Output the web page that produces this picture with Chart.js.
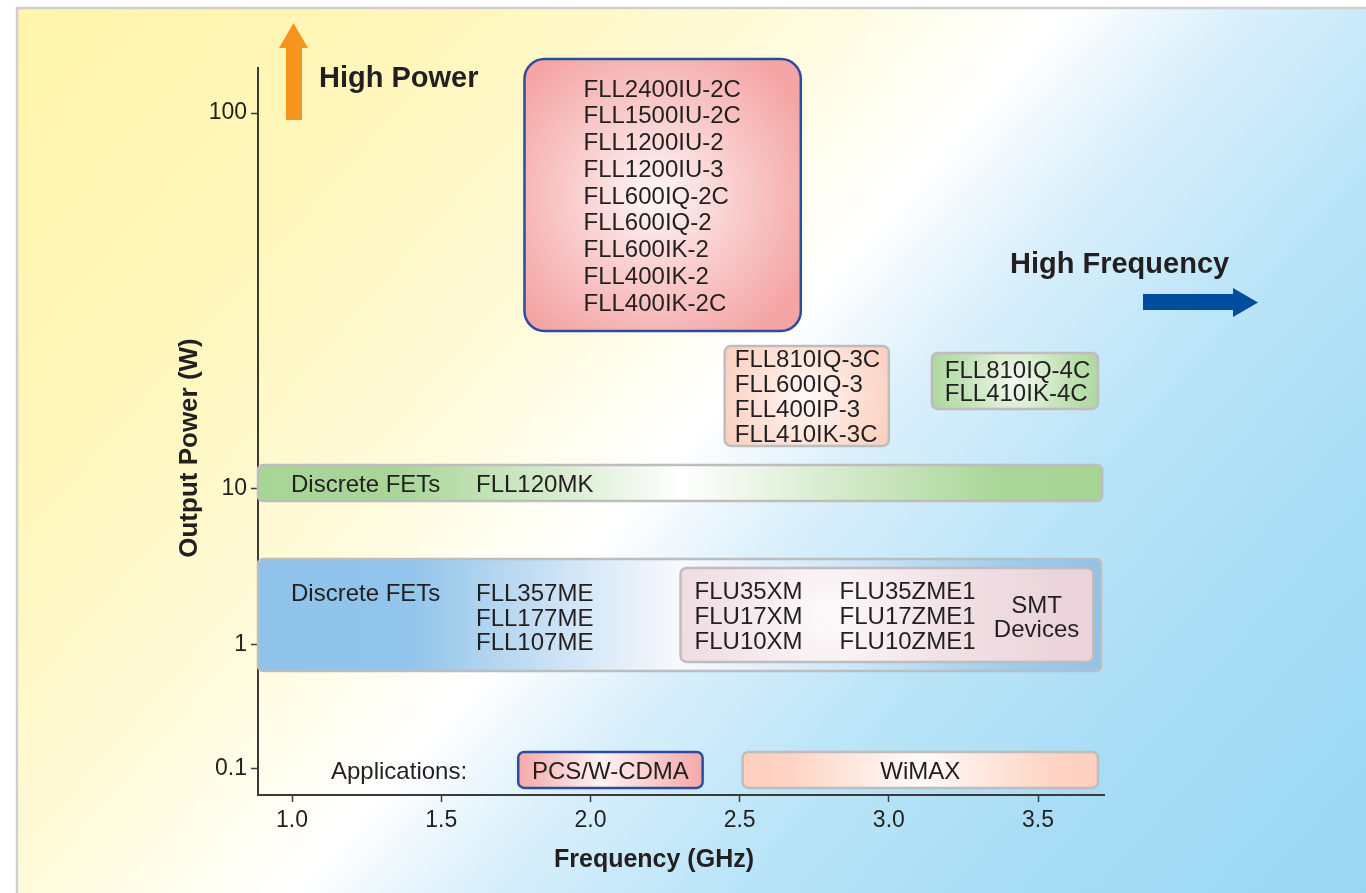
<!DOCTYPE html>
<html>
<head>
<meta charset="utf-8">
<title>Output power vs frequency</title>
<script src="https://cdn.jsdelivr.net/npm/chart.js@4.4.1/dist/chart.umd.min.js"></script>
<style>
  html, body { margin: 0; padding: 0; background: #fff; overflow: hidden; }
  canvas { display: block; }
</style>
</head>
<body>
<canvas id="powerChart" width="1366" height="893"></canvas>
<script>
// axis ticks
var freqTicks = [1.0, 1.5, 2.0, 2.5, 3.0, 3.5];
var powerTickLabels = ['0.1', '1', '10', '100'];
// the power axis in the original is schematic (not a true log scale),
// so the ticks sit at these levels
var powerTickLevels = [0, 1, 2.258, 5.29];

// device groups: frequency span (GHz) and span on the power axis (levels)
var boxNames     = ['highPower', 'series3C', 'series4C', 'fet10W', 'fet1W', 'smt', 'pcs', 'wimax'];
var boxFreqFrom  = [1.779, 2.450, 3.144, 0.886, 0.886, 2.302, 1.758, 2.510];
var boxFreqTo    = [2.705, 3.000, 3.701, 3.715, 3.711, 3.685, 2.376, 3.701];
var boxLevelLow  = [3.532, 2.605, 2.903, 2.161, 0.790, 0.863, -0.153, -0.153];
var boxLevelHigh = [5.726, 3.411, 3.355, 2.452, 1.694, 1.621, 0.137, 0.137];

// part numbers in each group
var highPowerParts = ['FLL2400IU-2C', 'FLL1500IU-2C', 'FLL1200IU-2', 'FLL1200IU-3', 'FLL600IQ-2C',
                      'FLL600IQ-2', 'FLL600IK-2', 'FLL400IK-2', 'FLL400IK-2C'];
var parts3C = ['FLL810IQ-3C', 'FLL600IQ-3', 'FLL400IP-3', 'FLL410IK-3C'];
var parts4C = ['FLL810IQ-4C', 'FLL410IK-4C'];
var fet10WParts = ['FLL120MK'];
var fet1WParts = ['FLL357ME', 'FLL177ME', 'FLL107ME'];
var smtXMParts = ['FLU35XM', 'FLU17XM', 'FLU10XM'];
var smtZMEParts = ['FLU35ZME1', 'FLU17ZME1', 'FLU10ZME1'];
var applications = ['PCS/W-CDMA', 'WiMAX'];

var FONT = '"Liberation Sans", Arial, Helvetica, sans-serif';
var TEXT = '#231f20';
var BOX_FONT = 24;

var boxStyles = {
  highPower: { radius: 20, border: '#2b4c9f', bw: 2.5, grad: 'radial', cx: 0.47, cy: 0.5, r: 0.62,
    stops: [[0, '#fff8f8'], [0.4, '#fad3d3'], [1, '#f4a4a4']],
    cols: [{ dx: 59, lines: highPowerParts, lh: 26.75 }] },
  series3C: { radius: 6, border: '#bdbdbd', bw: 2.5, grad: 'radial', cx: 0.5, cy: 0.5, r: 0.6,
    stops: [[0, '#fffaf7'], [0.5, '#fde1d6'], [1, '#fcccba']],
    cols: [{ dx: 10, lines: parts3C, lh: 25 }] },
  series4C: { radius: 6, border: '#bdbdbd', bw: 2.5, grad: 'radial', cx: 0.5, cy: 0.5, r: 0.6,
    stops: [[0, '#f4faf1'], [0.5, '#c4e3b8'], [1, '#a5d494']],
    cols: [{ dx: 13, lines: parts4C, lh: 23 }] },
  fet10W: { radius: 5, border: '#bdbdbd', bw: 2.5, grad: 'linear',
    stops: [[0, '#a7d596'], [0.17, '#a9d698'], [0.36, '#d8ecd0'], [0.5, '#ffffff'], [0.7, '#d2e9c8'], [0.88, '#a9d698'], [1, '#a6d495']],
    cols: [{ dx: 33, lines: ['Discrete FETs'], lh: 25 }, { dx: 218, lines: fet10WParts, lh: 25 }] },
  fet1W: { radius: 5, border: '#bdbdbd', bw: 2.5, grad: 'linear',
    stops: [[0, '#8fc3ea'], [0.18, '#92c5eb'], [0.36, '#cde3f5'], [0.5, '#f7f9fd'], [0.7, '#d0e6f6'], [0.9, '#9dcbee'], [1, '#8fc3ea']],
    cols: [{ dx: 33, lines: ['Discrete FETs', '', ''], lh: 24.5, dy: 2 }, { dx: 218, lines: fet1WParts, lh: 24.5, dy: 2 }] },
  smt: { radius: 6, border: '#bdbdbd', bw: 2.5, grad: 'radial', cx: 0.36, cy: 0.5, r: 0.6,
    stops: [[0, '#fdfafb'], [0.5, '#f1e0e5'], [1, '#ead3da']],
    cols: [{ dx: 14, lines: smtXMParts, lh: 25 }, { dx: 159, lines: smtZMEParts, lh: 25 },
           { dx: 356, center: true, lines: ['SMT', 'Devices'], lh: 24, dy: 1 }] },
  pcs: { radius: 6, border: '#2b4c9f', bw: 2.5, grad: 'linear',
    stops: [[0, '#f5a8a8'], [0.45, '#fff2f2'], [1, '#f5a8a8']],
    cols: [{ dx: 0, center: true, lines: [applications[0]], lh: 25 }] },
  wimax: { radius: 6, border: '#bdbdbd', bw: 2.5, grad: 'linear',
    stops: [[0, '#fdcfbe'], [0.12, '#fdd3c3'], [0.3, '#ffe6dc'], [0.5, '#fffbf9'], [0.7, '#ffe6dc'], [0.88, '#fdd3c3'], [1, '#fdcfbe']],
    cols: [{ dx: 0, center: true, lines: [applications[1]], lh: 25 }] }
};

function boxFill(ctx, st, l, t, r, b) {
  var g;
  if (st.grad === 'radial') {
    var w = r - l, h = b - t;
    var cx = l + w * st.cx, cy = t + h * st.cy;
    g = ctx.createRadialGradient(cx, cy, 0, cx, cy, Math.max(w, h) * st.r);
  } else {
    g = ctx.createLinearGradient(l, 0, r, 0);
  }
  st.stops.forEach(function (s) { g.addColorStop(s[0], s[1]); });
  return g;
}

// caps-centred text: baseline sits half a cap height below the centre line
function capText(ctx, str, x, cy, size) {
  ctx.textBaseline = 'alphabetic';
  ctx.fillText(str, x, cy + size * 0.36);
}

var boxPlugin = {
  id: 'boxes',
  beforeDraw: function (chart) {
    var ctx = chart.ctx, W = chart.width, H = chart.height;
    ctx.save();
    ctx.fillStyle = '#ffffff';
    ctx.fillRect(0, 0, W, H);
    var g = ctx.createLinearGradient(0, 0, 1216, 1064);
    g.addColorStop(0, '#fff4aa');
    g.addColorStop(0.22, '#fff7bc');
    g.addColorStop(0.38, '#fffbdb');
    g.addColorStop(0.5, '#ffffff');
    g.addColorStop(0.58, '#dbf0fb');
    g.addColorStop(0.69, '#bce5f8');
    g.addColorStop(0.84, '#a6dcf5');
    g.addColorStop(1, '#9bd7f3');
    ctx.fillStyle = g;
    ctx.fillRect(18, 9, W - 18, H - 9);
    ctx.strokeStyle = '#cfcfcf';
    ctx.lineWidth = 2.5;
    ctx.beginPath();
    ctx.moveTo(17, H);
    ctx.lineTo(17, 8);
    ctx.lineTo(W, 8);
    ctx.stroke();
    ctx.restore();
  },
  afterDatasetsDraw: function (chart) {
    var ctx = chart.ctx, xs = chart.scales.x, ys = chart.scales.y;
    boxNames.forEach(function (name, i) {
      var st = boxStyles[name];
      var l = xs.getPixelForValue(boxFreqFrom[i]);
      var r = xs.getPixelForValue(boxFreqTo[i]);
      var t = ys.getPixelForValue(boxLevelHigh[i]);
      var b = ys.getPixelForValue(boxLevelLow[i]);
      ctx.save();
      ctx.beginPath();
      ctx.roundRect(l, t, r - l, b - t, st.radius);
      ctx.fillStyle = boxFill(ctx, st, l, t, r, b);
      ctx.fill();
      ctx.lineWidth = st.bw;
      ctx.strokeStyle = st.border;
      ctx.stroke();
      ctx.font = BOX_FONT + 'px ' + FONT;
      ctx.fillStyle = TEXT;
      st.cols.forEach(function (col) {
        var n = col.lines.length;
        var cy = (t + b) / 2 + (col.dy || 0);
        var x;
        if (col.center) {
          ctx.textAlign = 'center';
          x = col.dx ? l + col.dx : (l + r) / 2;
        } else {
          ctx.textAlign = 'left';
          x = l + col.dx;
        }
        col.lines.forEach(function (line, k) {
          capText(ctx, line, x, cy + (k - (n - 1) / 2) * col.lh, BOX_FONT);
        });
      });
      ctx.restore();
    });
    // row label for the application bands
    ctx.save();
    ctx.font = BOX_FONT + 'px ' + FONT;
    ctx.fillStyle = TEXT;
    ctx.textAlign = 'left';
    capText(ctx, 'Applications:', chart.chartArea.left + 73, ys.getPixelForValue(0) + 1, BOX_FONT);
    ctx.restore();
  },
  afterDraw: function (chart) {
    var ctx = chart.ctx;
    ctx.save();
    ctx.fillStyle = TEXT;
    // axis titles
    ctx.font = 'bold 25px ' + FONT;
    ctx.textAlign = 'center';
    ctx.textBaseline = 'alphabetic';
    ctx.fillText('Frequency (GHz)', 654, 867);
    ctx.save();
    ctx.translate(197, 448);
    ctx.rotate(-Math.PI / 2);
    ctx.font = 'bold 26px ' + FONT;
    ctx.fillText('Output Power (W)', 0, 0);
    ctx.restore();
    // high power arrow
    ctx.fillStyle = '#f7941d';
    ctx.fillRect(286, 48, 16, 72);
    ctx.beginPath();
    ctx.moveTo(279, 48); ctx.lineTo(308, 48); ctx.lineTo(293.5, 23); ctx.closePath();
    ctx.fill();
    // high frequency arrow
    ctx.fillStyle = '#004da0';
    ctx.fillRect(1143, 294, 91, 16);
    ctx.beginPath();
    ctx.moveTo(1233, 288); ctx.lineTo(1233, 317); ctx.lineTo(1258, 302.5); ctx.closePath();
    ctx.fill();
    ctx.fillStyle = TEXT;
    ctx.textAlign = 'left';
    ctx.font = 'bold 29px ' + FONT;
    ctx.fillText('High Power', 319, 87);
    ctx.fillText('High Frequency', 1010, 273);
    ctx.restore();
  }
};

var tickFont = { family: FONT, size: 23 };

new Chart(document.getElementById('powerChart'), {
  type: 'scatter',
  data: { datasets: [{ data: [] }] },
  plugins: [boxPlugin],
  options: {
    responsive: false,
    animation: false,
    devicePixelRatio: 1,
    layout: { padding: { left: 158, right: 262, top: 68, bottom: 38 } },
    plugins: { legend: { display: false }, tooltip: { enabled: false } },
    scales: {
      x: {
        type: 'linear',
        min: 0.886,
        max: 3.721,
        afterBuildTicks: function (s) { s.ticks = freqTicks.map(function (v) { return { value: v }; }); },
        afterFit: function (s) { s.height = 60; },
        ticks: {
          autoSkip: false, maxRotation: 0, padding: 5, color: TEXT, font: tickFont,
          callback: function (v) { return Number(v).toFixed(1); }
        },
        grid: { drawOnChartArea: false, drawTicks: true, tickLength: 7, tickColor: '#3a3a3a', tickWidth: 1.5 },
        border: { color: '#3a3a3a', width: 2 }
      },
      y: {
        type: 'linear',
        min: -0.21,
        max: 5.653,
        afterBuildTicks: function (s) { s.ticks = powerTickLevels.map(function (v) { return { value: v }; }); },
        afterFit: function (s) { s.width = 100; },
        ticks: {
          autoSkip: false, padding: 4, color: TEXT, font: tickFont,
          callback: function (v, i) { return powerTickLabels[i]; }
        },
        grid: { drawOnChartArea: false, drawTicks: true, tickLength: 7, tickColor: '#3a3a3a', tickWidth: 1.5 },
        border: { color: '#3a3a3a', width: 2 }
      }
    }
  }
});
</script>
</body>
</html>
